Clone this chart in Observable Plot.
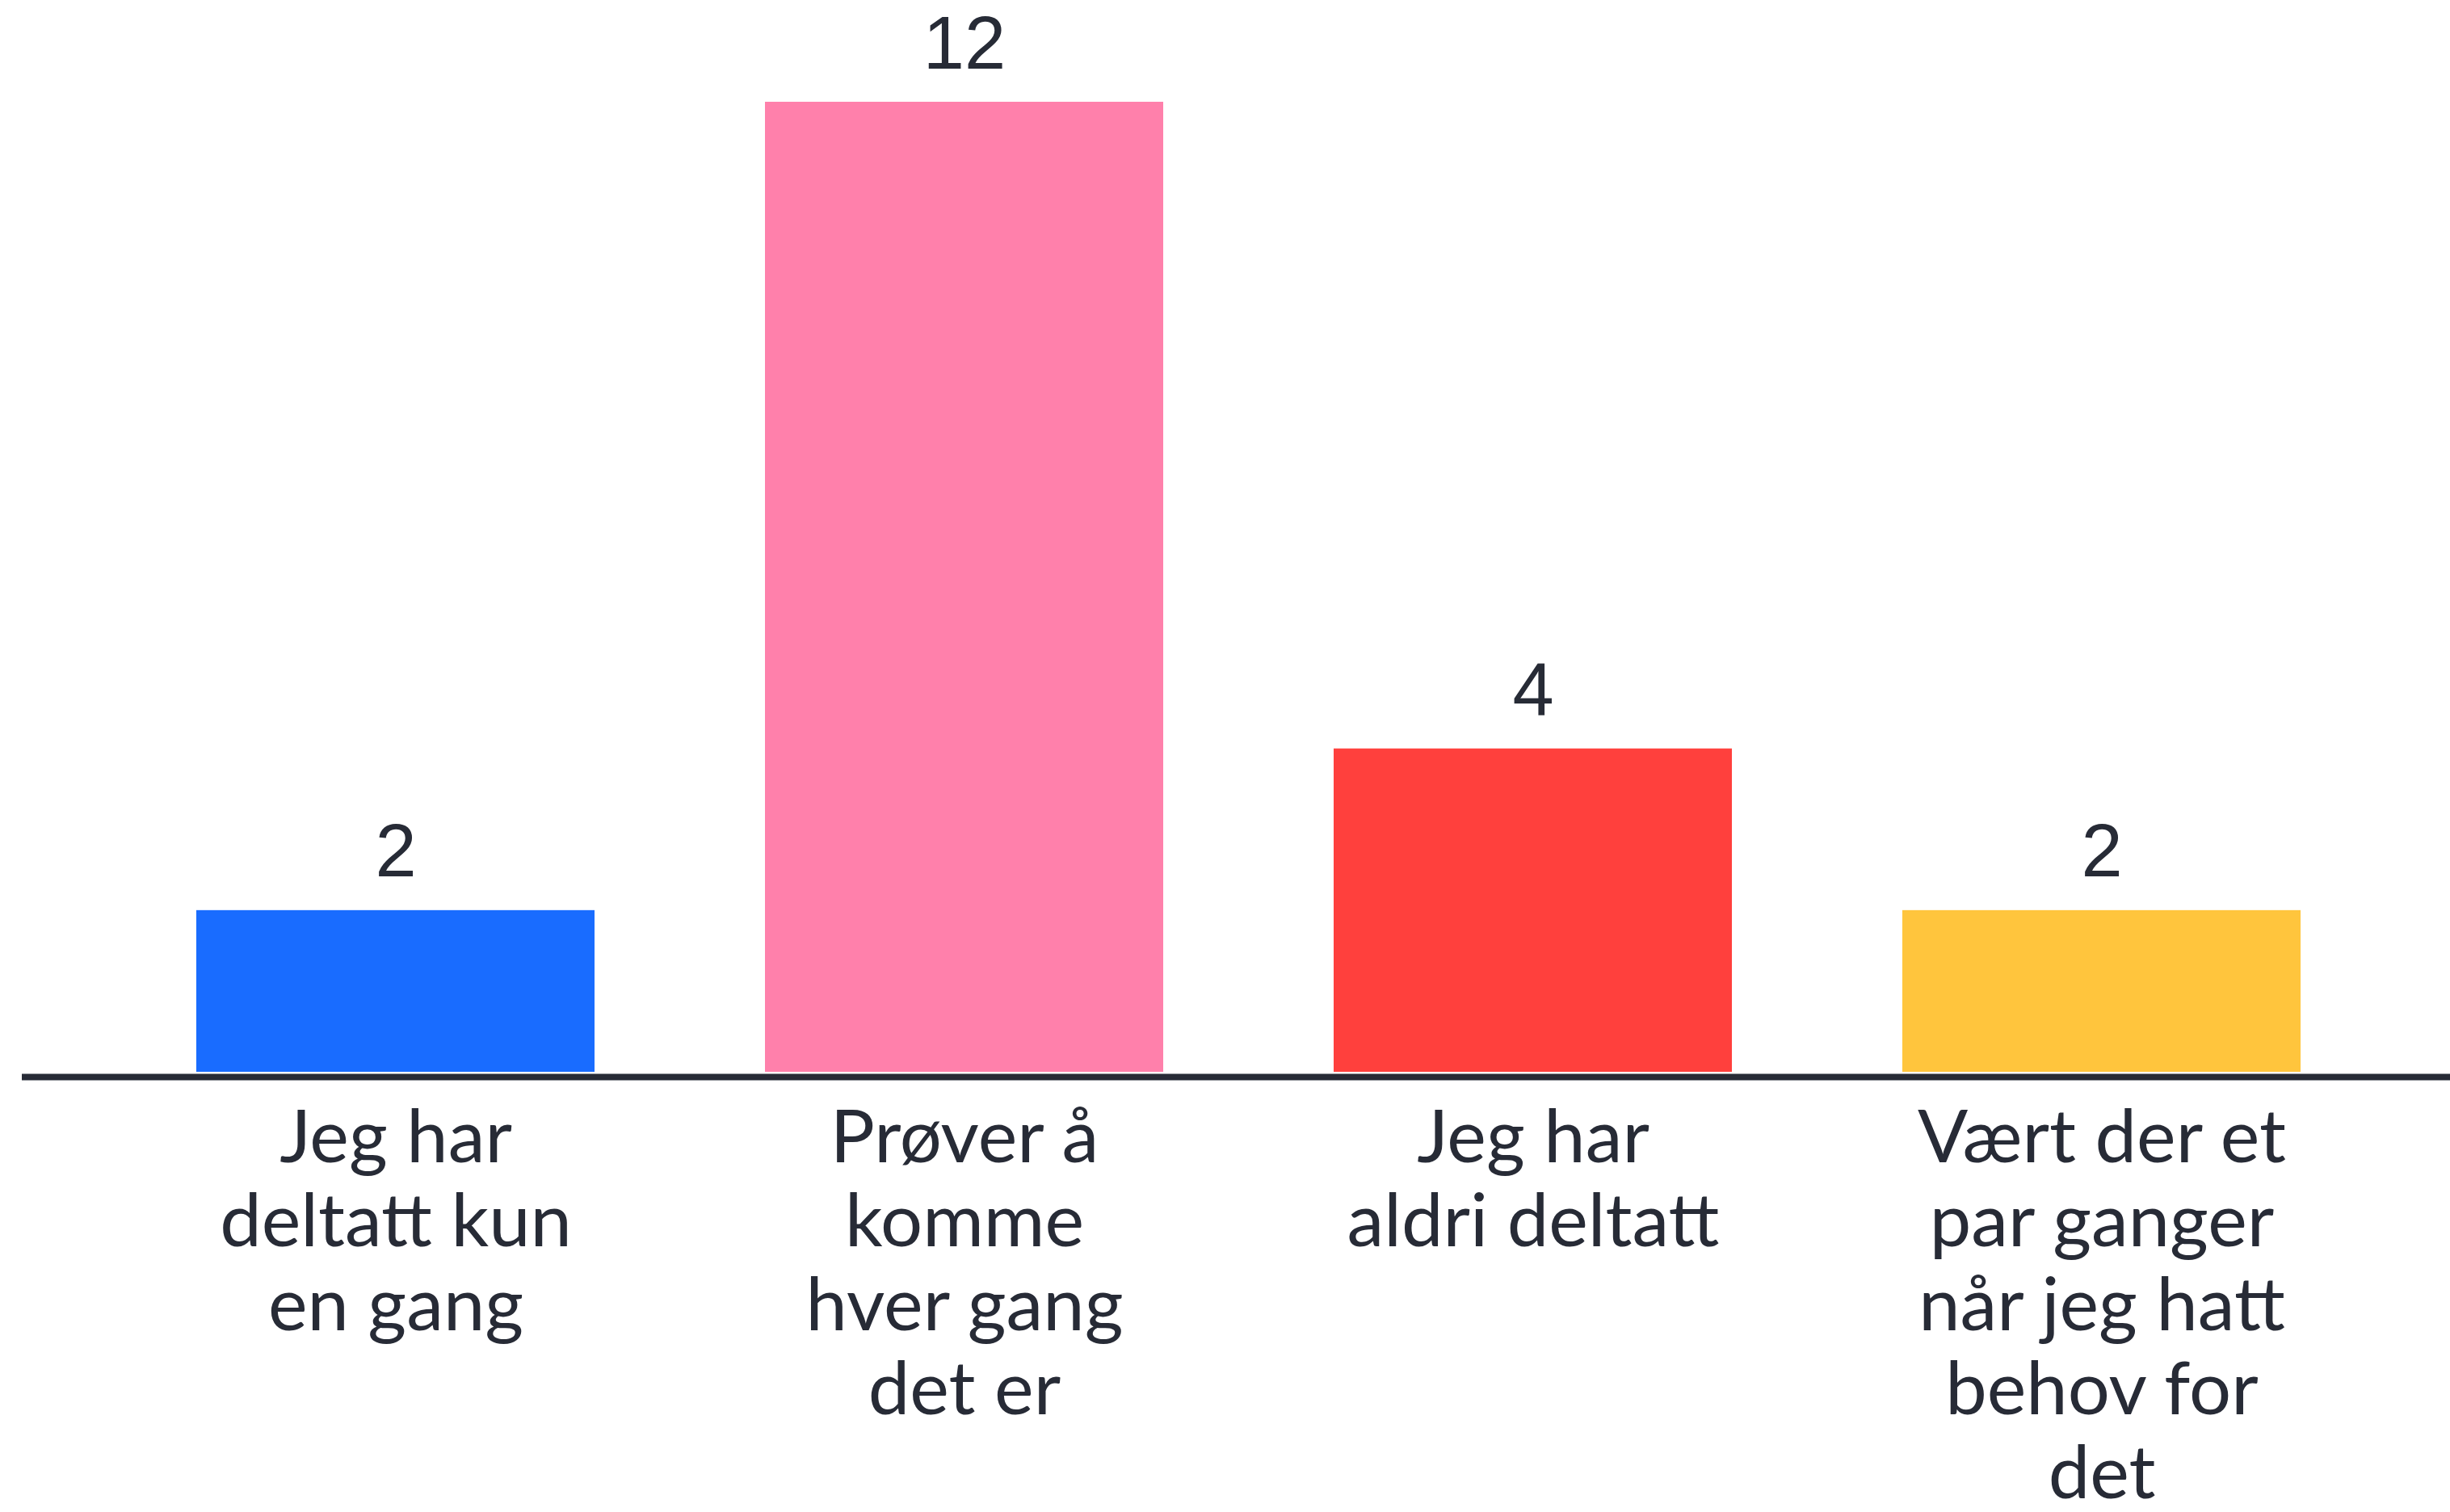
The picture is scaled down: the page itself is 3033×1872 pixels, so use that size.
<!DOCTYPE html>
<html><head><meta charset="utf-8">
<script src="https://cdn.jsdelivr.net/npm/d3@7"></script>
<script src="https://cdn.jsdelivr.net/npm/@observablehq/plot@0.6"></script>
<style>html,body{margin:0;padding:0;background:#fff;overflow:hidden}</style>
</head><body><div id="chart"></div>
<script>
const categories = [
  "Jeg har deltatt kun en gang",
  "Prøver å komme hver gang det er",
  "Jeg har aldri deltatt",
  "Vært der et par ganger når jeg hatt behov for det"
];
const counts = [2, 12, 4, 2];
const tickLabels = [
  "Jeg har\ndeltatt kun\nen gang",
  "Prøver å\nkomme\nhver gang\ndet er",
  "Jeg har\naldri deltatt",
  "Vært der et\npar ganger\nnår jeg hatt\nbehov for\ndet"
];
const barColors = ["#196CFF", "#FF80AB", "#FF403D", "#FFC53D"];

const data = categories.map((c, i) => ({category: c, count: counts[i], label: tickLabels[i]}));
const ink = "#272b36";

const chart = Plot.plot({
  width: 3033,
  height: 1872,
  marginTop: 126,
  marginBottom: 545,
  marginLeft: 27,
  marginRight: 0,
  x: {domain: categories, paddingInner: 0.3, paddingOuter: 0.2834, align: 0.539, axis: null},
  y: {domain: [0, 12], axis: null},
  color: {domain: categories, range: barColors},
  marks: [
    Plot.barY(data, {x: "category", y: "count", fill: "category"}),
    Plot.ruleY([0], {stroke: ink, strokeWidth: 8, dy: 6}),
    Plot.text(data, {x: "category", y: "count", text: d => String(d.count), dy: -42, lineAnchor: "bottom",
      fontSize: 92, fill: ink, fontFamily: "Liberation Sans, Arial, sans-serif"}),
    Plot.text(data, {x: "category", text: "label", frameAnchor: "bottom", lineAnchor: "top", dy: 38,
      fontSize: 92, lineHeight: 1.13, fill: ink, fontFamily: "Lato, sans-serif"})
  ]
});
document.getElementById("chart").appendChild(chart);
</script>
</body></html>
